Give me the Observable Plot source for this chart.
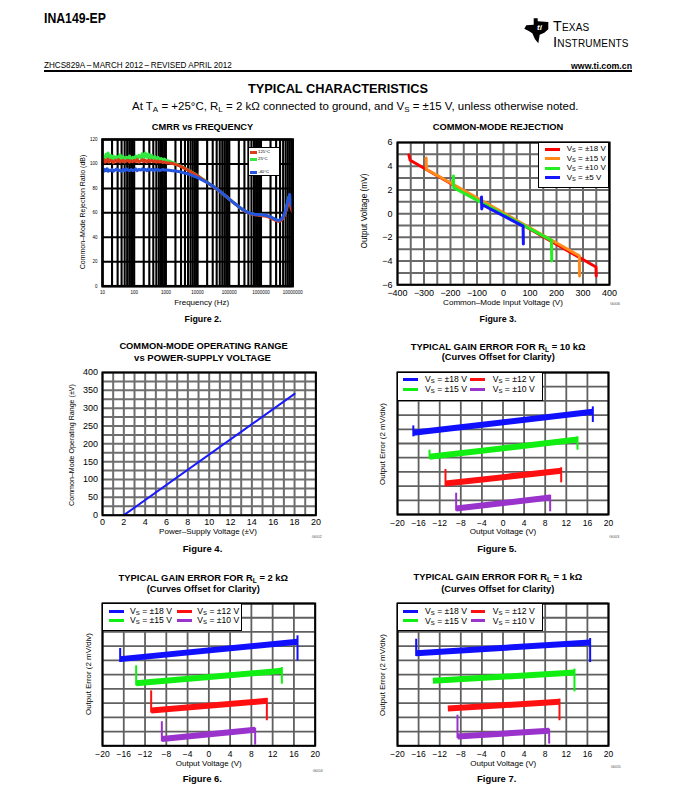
<!DOCTYPE html>
<html><head><meta charset="utf-8">
<script src="https://cdn.jsdelivr.net/npm/d3@7"></script>
<script src="https://cdn.jsdelivr.net/npm/@observablehq/plot@0.6"></script>
<style>
html,body{margin:0;padding:0;background:#fff;}
#page{position:relative;width:675px;height:801px;overflow:hidden;font-family:"Liberation Sans",Arial,Helvetica,sans-serif;color:#000;background:#fff;}
.t{position:absolute;white-space:nowrap;line-height:1;}
.t sub{font-size:0.7em;vertical-align:-0.25em;line-height:0;}
.legend{position:absolute;background:#fff;border:1.5px solid #000;box-sizing:border-box;}
.sw{position:absolute;height:3px;}
</style></head><body><div id="page"></div>
<script>
// ---------------- DATA ----------------
// Figure 2: CMRR vs frequency
const cmrrFreq = [10,11,12,13,14,15,16,18,20,22,25,28,32,36,40,45,50,56,63,71,80,90,100,112,125,140,160,180,200,224,250,280,315,355,400,450,500,560,630,710,800,900,1000,1250,1600,2000,2500,3150,4000,5000,6300,8000,10000,12500,16000,20000,25000,31500,40000,50000,63000,80000,100000,125000,160000,200000,250000,315000,400000,500000,630000,800000,1000000,1250000,1600000,2000000,2500000,3150000,3600000,4000000,4500000,5000000,5600000,6300000,7000000,7500000,8000000,8500000,9000000,10000000];
const cmrr125 = [102,103.5,101.5,103,102,104,101.5,103,102.5,101,
 103,102,103.5,101.5,102.5,103,101.5,102.5,103,101.5,
 102.5,101.8,103,102,103.5,101.5,102.5,103.5,102,103,
 101.5,103,102,103,101.8,102.5,101.5,102.3,101.5,102,
 101.2,101.5,101,100.8,100.3,99.7,98.8,97.6,96.2,94.9,
 93.4,91.8,90.3,88.6,86.7,84.9,83.1,81.4,79.5,77.5,
 75.5,73.4,71.2,69.1,66.9,64.9,63.0,61.4,60.1,59.1,
 58.5,58.2,57.9,57.5,56.9,55.9,54.7,53.4,53.0,53.4,
 54.3,55.7,58.2,62.5,67.5,70,72,67.5,63.5,60.5];
const cmrr25 = [103,106,104,108,105,109,104.5,107,104,106.5,
 103.5,106,104.5,107.5,104,106,103.5,105.5,104.5,106.5,
 103.5,105.5,104,106.5,104.5,107,105,108.5,105,109,
 105.5,108,104.5,107,104,106,103.5,105.5,103.5,104.5,
 103,104,103,102.2,101.2,100.2,99,97.8,96.5,95.0,
 93.5,92,90.5,88.8,86.8,85.0,83.2,81.5,79.6,77.6,
 75.5,73.4,71.2,69.1,66.9,64.9,63.1,61.5,60.2,59.2,
 58.7,58.4,58.2,57.8,57.2,56.3,55.1,53.8,53.4,53.8,
 54.8,56.3,59,63.5,69,72.5,74,69.5,65,62];
const cmrrMinus40 = [95,94,95.5,94.5,96,94,95,94.5,95.5,94,
 95,96,94.5,95,94,95.5,94.5,96,95,94.5,
 95.5,94.5,95,96,94.5,95.5,95,96,95,95.5,
 94.5,96,95,95.5,94.5,95.5,95,95.5,94.5,95,
 95.5,95,95,94.8,94.5,94.2,93.8,93.2,92.5,91.8,
 90.8,89.8,88.8,87.6,86.2,84.8,83.2,81.5,79.6,77.6,
 75.6,73.5,71.3,69.2,67.0,65.0,63.2,61.6,60.3,59.4,
 58.9,58.7,58.5,58.2,57.6,56.7,55.5,54.2,53.8,54.2,
 55.2,56.8,59.5,64,70,72,75,71,67,64];
const cmrrXTicks = [10,100,1000,10000,100000,1000000,10000000];
const cmrrYTicks = [0,20,40,60,80,100,120];
const cmrrTemps = ["125°C","25°C","-40°C"];

// Figure 3: common-mode rejection
const cmrVin18 = [-357,-352,349,350],      cmrVout18 = [4.95,4.5,-4.5,-5.25];
const cmrVin15 = [-292,-291,286,287],      cmrVout15 = [4.7,3.75,-3.55,-5.25];
const cmrVin10 = [-189,-188,181,182],      cmrVout10 = [3.18,2.2,-2.25,-4.0];
const cmrVin5  = [-83,-82,-80,74,75],      cmrVout5  = [1.4,0.4,0.75,-1.05,-2.55];
const cmrXTicks = [-400,-300,-200,-100,0,100,200,300,400];
const cmrYTicks = [-6,-4,-2,0,2,4,6];

// Figure 4: common-mode operating range
const opSupply = [2, 18];
const opRange = [0, 340];
const opXTicks = [0,2,4,6,8,10,12,14,16,18,20];
const opYTicks = [0,50,100,150,200,250,300,350,400];

// Figures 5-7: gain error (series order ±18, ±15, ±12, ±10 V); y in divisions (2 mV/div)
const gainSeries = ["±18","±15","±12","±10"];
const gainXTicks = [-20,-16,-12,-8,-4,0,4,8,12,16,20];
const f5X0 = [-17,-13.93,-10.9,-8.88],   f5X1 = [17.03,14.12,11.03,8.94];
const f5B0 = [5.75,4.06,2.18,0.42],      f5B1 = [7.23,5.28,3.08,1.2];
const f5S0 = [[6.24,5.47],[4.53,3.9],[3.17,1.95],[1.5,0.23]];
const f5S1 = [[7.58,6.48],[5.47,4.53],[3.29,2.23],[1.36,0.19]];
const f6X0 = [-16.68,-13.67,-10.85,-8.84], f6X1 = [16.68,13.73,10.91,8.71];
const f6B0 = [6.09,4.4,2.48,0.47],        f6B1 = [7.31,5.27,3.16,1.12];
const f6S0 = [[6.84,5.85],[5.62,4.22],[3.86,2.3],[1.69,0.28]];
const f6S1 = [[7.73,5.97],[5.5,4.33],[3.33,1.76],[1.24,0.05]];
const f7X0 = [-16.46,-13.3,-10.46,-8.63], f7X1 = [16.52,13.55,10.71,8.75];
const f7B0 = [6.51,4.57,2.62,0.66],       f7B1 = [7.26,5.15,3.09,1.05];
const f7S0 = [[7.49,6.28],[4.57,4.57],[2.62,2.62],[2.15,0.52]];
const f7S1 = [[7.54,5.85],[5.39,3.79],[3.28,1.76],[1.17,0.12]];

// ---------------- HELPERS ----------------
const page = document.getElementById("page");
const FONT = '"Liberation Sans", Arial, Helvetica, sans-serif';

function txt(html, o) {
  const el = document.createElement("div");
  el.className = "t";
  el.innerHTML = html;
  const base = o.size || 10;
  el.style.fontSize = base + "px";
  if (o.bold) el.style.fontWeight = "bold";
  if (o.color) el.style.color = o.color;
  if (o.css) Object.assign(el.style, o.css);
  page.appendChild(el);
  const sx = o.sx || 1;
  if (o.w) { const m = el.getBoundingClientRect().width; el.style.fontSize = (base * o.w / (m * sx)) + "px"; }
  el.style.left = o.x + "px"; el.style.top = o.y + "px";
  const a = o.anchor || "middle";
  if (o.rotate) { el.style.transform = "translate(-50%,-50%) rotate(-90deg)"; }
  else {
    const tx = a === "middle" ? "-50%" : a === "end" ? "-100%" : "0";
    el.style.transformOrigin = a === "middle" ? "50% 50%" : a === "end" ? "100% 50%" : "0 50%";
    el.style.transform = `translate(${tx},-50%)` + (sx !== 1 ? ` scaleX(${sx})` : "");
  }
  return el;
}

function chart(o) {
  const {fx0, fx1, fy0, fy1, ml = 36, mr = 10, mt = 6, mb = 20, fontSize = 9, ...opts} = o;
  const width = ml + (fx1 - fx0) + mr, height = mt + (fy1 - fy0) + mb;
  const svg = Plot.plot({
    width, height, marginLeft: ml, marginRight: mr, marginTop: mt, marginBottom: mb,
    style: {fontSize: fontSize + "px", fontFamily: FONT, background: "transparent", overflow: "visible", color: "#000"},
    ...opts
  });
  Object.assign(svg.style, {position: "absolute", left: (fx0 - ml) + "px", top: (fy0 - mt) + "px", maxWidth: "none"});
  page.appendChild(svg);
  return svg;
}

function legendBox(x0, y0, x1, y1) {
  const d = document.createElement("div");
  d.className = "legend";
  Object.assign(d.style, {left: x0 + "px", top: y0 + "px", width: (x1 - x0) + "px", height: (y1 - y0) + "px"});
  page.appendChild(d);
}
function swatch(x0, x1, y, color, h = 3) {
  const d = document.createElement("div");
  d.className = "sw";
  Object.assign(d.style, {left: x0 + "px", top: (y - h / 2) + "px", width: (x1 - x0) + "px", height: h + "px", background: color});
  page.appendChild(d);
}
const pts = (xs, ys) => xs.map((x, i) => ({x, y: ys[i]}));

// ---------------- HEADER ----------------
txt("INA149-EP", {x: 44, y: 18.3, w: 62, bold: true, anchor: "start", sx: 0.82});
{
  const s = document.createElementNS("http://www.w3.org/2000/svg", "svg");
  s.setAttribute("width", 675); s.setAttribute("height", 60);
  Object.assign(s.style, {position: "absolute", left: "0px", top: "0px"});
  s.innerHTML = `<polygon fill="#000" points="533.7,18.3 537.7,18.3 537.7,21.3 548.3,22 548.3,29.3 544.3,32.7 539.7,34.7 538.3,43.3 535,39.3 532.3,33.3 528.3,30.7 524.3,28.7 526.3,25.3 533.7,24.7"/>
  <text x="537" y="30" fill="#fff" font-size="8" font-weight="bold" font-style="italic" font-family='${FONT}'>ti</text>`;
  page.appendChild(s);
}
{
  // two-line logotype as a single text block
  const d = document.createElement("div");
  d.className = "t";
  Object.assign(d.style, {left: "553px", top: "18.5px", lineHeight: "14px", fontVariant: "small-caps", letterSpacing: "0.2px", fontSize: "10px"});
  d.innerHTML = '<span>Texas</span><br><span>Instruments</span>';
  page.appendChild(d);
  const [a, b] = d.querySelectorAll("span");
  a.style.fontSize = (10 * 37 / a.getBoundingClientRect().width) + "px";
  b.style.fontSize = (10 * 79 / b.getBoundingClientRect().width) + "px";
}
txt("ZHCS829A&thinsp;–&thinsp;MARCH 2012&thinsp;–&thinsp;REVISED APRIL 2012", {x: 44, y: 65.7, w: 188, anchor: "start"});
txt("www.ti.com.cn", {x: 632, y: 65.7, w: 61, anchor: "end", bold: true});
{
  const d = document.createElement("div");
  Object.assign(d.style, {position: "absolute", left: "44px", top: "70px", width: "588px", height: "2px", background: "#000"});
  page.appendChild(d);
}
txt("TYPICAL CHARACTERISTICS", {x: 338, y: 89, w: 180, bold: true});
txt("At T<sub>A</sub> = +25°C, R<sub>L</sub> = 2 kΩ connected to ground, and V<sub>S</sub> = ±15 V, unless otherwise noted.", {x: 132, y: 107, w: 447, anchor: "start"});

// ---------------- FIGURE 2 ----------------
const cmrrColors = ["#dd3c1c", "#33e640", "#2456e0"];
chart({
  fx0: 102.3, fx1: 292.5, fy0: 139, fy1: 285.7, ml: 30, mr: 6, mt: 4, mb: 12, fontSize: 4.5,
  x: {type: "log", domain: [10, 1e7], ticks: cmrrXTicks, tickFormat: d3.format("d"), tickSize: 0, tickPadding: 5, label: null},
  y: {domain: [0, 120], ticks: cmrrYTicks, tickSize: 0, tickPadding: 5, label: null},
  marks: [
    Plot.ruleX(d3.scaleLog().domain([10, 1e7]).ticks(), {stroke: "#000", strokeWidth: 2.1}),
    Plot.ruleY(cmrrYTicks, {stroke: "#000", strokeWidth: 2}),
    Plot.line(pts(cmrrFreq, cmrr25), {x: "x", y: "y", stroke: cmrrColors[1], strokeWidth: 3}),
    Plot.line(pts(cmrrFreq, cmrr125), {x: "x", y: "y", stroke: cmrrColors[0], strokeWidth: 3}),
    Plot.line(pts(cmrrFreq, cmrrMinus40), {x: "x", y: "y", stroke: cmrrColors[2], strokeWidth: 3}),
    Plot.frame({stroke: "#000", strokeWidth: 2.5})
  ]
});
legendBox(248.3, 147.3, 280, 176);
[152.3, 159.3, 172.3].forEach((yy, i) => {
  swatch(250, 257, yy, cmrrColors[i], 2.5);
  txt(cmrrTemps[i], {x: 258, y: yy, size: 4.3, anchor: "start"});
});
txt("CMRR vs FREQUENCY", {x: 202.5, y: 128, w: 101.6, bold: true});
txt("Common–Mode Rejection Ratio (dB)", {x: 82.7, y: 211.7, w: 115, rotate: true});
txt("Frequency (Hz)", {x: 201.7, y: 302.7, w: 55});
txt("Figure 2.", {x: 203, y: 318.5, w: 37, bold: true});

// ---------------- FIGURE 3 ----------------
const cmrColors = ["#ff0000", "#ff8a1a", "#22ee22", "#1515ff"];
chart({
  fx0: 397, fx1: 609, fy0: 141.7, fy1: 284, ml: 30, mr: 8, mt: 4, mb: 16, fontSize: 9,
  x: {domain: [-400, 400], ticks: cmrXTicks, tickSize: 0, tickPadding: 5, label: null},
  y: {domain: [-6, 6], ticks: cmrYTicks, tickSize: 0, tickPadding: 5, label: null},
  marks: [
    Plot.ruleX(d3.range(-400, 401, 50), {stroke: "#6a6a6a", strokeWidth: 2}),
    Plot.ruleY(d3.range(-6, 7, 1), {stroke: "#6a6a6a", strokeWidth: 2}),
    Plot.line(pts(cmrVin18, cmrVout18), {x: "x", y: "y", stroke: cmrColors[0], strokeWidth: 3}),
    Plot.line(pts(cmrVin15, cmrVout15), {x: "x", y: "y", stroke: cmrColors[1], strokeWidth: 3}),
    Plot.line(pts(cmrVin10, cmrVout10), {x: "x", y: "y", stroke: cmrColors[2], strokeWidth: 3}),
    Plot.line(pts(cmrVin5, cmrVout5), {x: "x", y: "y", stroke: cmrColors[3], strokeWidth: 3}),
    Plot.frame({stroke: "#000", strokeWidth: 2})
  ]
});
legendBox(538.3, 141.7, 609, 187.7);
["±18", "±15", "±10", "±5"].forEach((v, i) => {
  const yy = [149.3, 158.7, 168.3, 177.7][i];
  swatch(545, 560, yy, cmrColors[i], 3);
  txt(`V<sub>S</sub> = ${v} V`, {x: 566.7, y: yy, size: 8, anchor: "start"});
});
txt("COMMON-MODE REJECTION", {x: 498, y: 128, w: 130.6, bold: true});
txt("Output Voltage (mV)", {x: 365, y: 211, w: 75, rotate: true});
txt("Common–Mode Input Voltage (V)", {x: 503, y: 302.7, w: 120});
txt("G006", {x: 615, y: 304.3, w: 10, color: "#555"});
txt("Figure 3.", {x: 498, y: 318.5, w: 37, bold: true});

// ---------------- FIGURE 4 ----------------
chart({
  fx0: 102.3, fx1: 315.7, fy0: 372.3, fy1: 515, ml: 30, mr: 8, mt: 4, mb: 16, fontSize: 9,
  x: {domain: [0, 20], ticks: opXTicks, tickSize: 0, tickPadding: 3.5, label: null},
  y: {domain: [0, 400], ticks: opYTicks, tickSize: 0, tickPadding: 4.5, label: null},
  marks: [
    Plot.ruleX(d3.range(0, 21, 1), {stroke: "#6e6e6e", strokeWidth: 2}),
    Plot.ruleY(d3.range(0, 401, 25), {stroke: "#6e6e6e", strokeWidth: 2}),
    Plot.line(pts(opSupply, opRange), {x: "x", y: "y", stroke: "#1a1aff", strokeWidth: 2}),
    Plot.frame({stroke: "#000", strokeWidth: 2})
  ]
});
txt("COMMON-MODE OPERATING RANGE", {x: 203.5, y: 346.7, w: 168.3, bold: true});
txt("vs POWER-SUPPLY VOLTAGE", {x: 202.5, y: 357.7, w: 137, bold: true});
txt("Common–Mode Operating Range (±V)", {x: 72.7, y: 445, w: 122, rotate: true});
txt("Power–Supply Voltage (±V)", {x: 208, y: 532.3, w: 98});
txt("G002", {x: 316.7, y: 536.7, w: 10, color: "#555"});
txt("Figure 4.", {x: 202.5, y: 549, w: 39.6, bold: true});

// ---------------- FIGURES 5-7 ----------------
const gainColors = ["#1010ff", "#11ee11", "#ff1010", "#9933cc"];
function gainFigure(f, X0, X1, B0, B1, S0, S1) {
  const marks = [
    Plot.ruleX(d3.range(-20, 21, 4), {stroke: "#606060", strokeWidth: 1.8}),
    Plot.ruleY(d3.range(0, 11, 1), {stroke: "#606060", strokeWidth: 1.8})
  ];
  gainSeries.forEach((s, i) => {
    marks.push(Plot.link([{x1: X0[i], y1: B0[i], x2: X1[i], y2: B1[i]}], {x1: "x1", y1: "y1", x2: "x2", y2: "y2", stroke: gainColors[i], strokeWidth: 6}));
    marks.push(Plot.ruleX([{x: X0[i], a: S0[i][0], b: S0[i][1]}, {x: X1[i], a: S1[i][0], b: S1[i][1]}], {x: "x", y1: "a", y2: "b", stroke: gainColors[i], strokeWidth: 2}));
  });
  marks.push(Plot.frame({stroke: "#000", strokeWidth: 2}));
  chart({
    fx0: f.fx0, fx1: f.fx1, fy0: f.fy0, fy1: f.fy1, ml: 20, mr: 10, mt: 4, mb: 16, fontSize: 8.5,
    x: {domain: [-20, 20], ticks: gainXTicks, tickSize: 0, tickPadding: 5, label: null},
    y: {domain: [0, 10], axis: null},
    marks
  });
  legendBox(f.fx0, f.fy0, f.lx1, f.ly1);
  gainSeries.forEach((s, i) => {
    const col = i < 2 ? 0 : 1, row = i % 2;
    const yy = f.rows[row];
    swatch(f.cols[col][0], f.cols[col][1], yy, gainColors[i], 3);
    txt(`V<sub>S</sub> = ${s} V`, {x: f.cols[col][2], y: yy, size: 8.6, anchor: "start"});
  });
}
gainFigure({fx0: 397.3, fx1: 608.3, fy0: 372.3, fy1: 514.3, lx1: 543.3, ly1: 400.7, rows: [379.3, 389],
  cols: [[403, 418, 425], [470, 485, 492.7]]}, f5X0, f5X1, f5B0, f5B1, f5S0, f5S1);
gainFigure({fx0: 102.3, fx1: 315, fy0: 602.7, fy1: 745, lx1: 241.7, ly1: 631, rows: [611, 620],
  cols: [[109.3, 124.3, 130], [176.7, 191.7, 197.3]]}, f6X0, f6X1, f6B0, f6B1, f6S0, f6S1);
gainFigure({fx0: 397.3, fx1: 608.3, fy0: 602.7, fy1: 745, lx1: 543.3, ly1: 631, rows: [611, 620.7],
  cols: [[403.3, 418.3, 425], [470.7, 485, 492.7]]}, f7X0, f7X1, f7B0, f7B1, f7S0, f7S1);

txt("TYPICAL GAIN ERROR FOR R<sub>L</sub> = 10 kΩ", {x: 498.2, y: 346.7, w: 175, bold: true});
txt("(Curves Offset for Clarity)", {x: 498.3, y: 357.7, w: 113.3, bold: true});
txt("Output Error (2 mV/div)", {x: 383.3, y: 444, w: 82, rotate: true});
txt("Output Voltage (V)", {x: 503, y: 532.3, w: 66.7});
txt("G003", {x: 614.3, y: 536.7, w: 10, color: "#555"});
txt("Figure 5.", {x: 497, y: 549, w: 39.5, bold: true});

txt("TYPICAL GAIN ERROR FOR R<sub>L</sub> = 2 kΩ", {x: 203.3, y: 578.3, w: 170, bold: true});
txt("(Curves Offset for Clarity)", {x: 203.3, y: 589.7, w: 113.3, bold: true});
txt("Output Error (2 mV/div)", {x: 89.3, y: 674, w: 82, rotate: true});
txt("Output Voltage (V)", {x: 208.7, y: 764, w: 66});
txt("G004", {x: 317.7, y: 770.7, w: 10, color: "#555"});
txt("Figure 6.", {x: 202.3, y: 779.3, w: 39.3, bold: true});

txt("TYPICAL GAIN ERROR FOR R<sub>L</sub> = 1 kΩ", {x: 497.8, y: 578.3, w: 169, bold: true});
txt("(Curves Offset for Clarity)", {x: 497.7, y: 589.7, w: 113.3, bold: true});
txt("Output Error (2 mV/div)", {x: 383.3, y: 675, w: 82, rotate: true});
txt("Output Voltage (V)", {x: 503.3, y: 764, w: 66});
txt("G005", {x: 615.7, y: 766.7, w: 10, color: "#555"});
txt("Figure 7.", {x: 496.7, y: 779.3, w: 39.3, bold: true});
</script></body></html>
